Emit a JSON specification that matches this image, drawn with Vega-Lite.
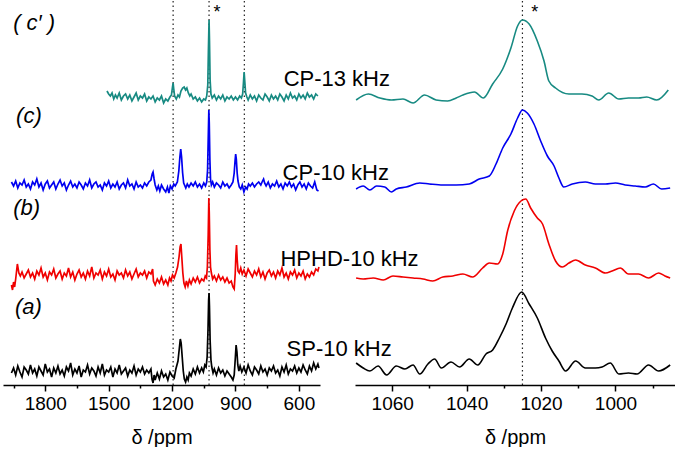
{
"$schema": "https://vega.github.io/schema/vega-lite/v6.json",
"padding": {"left": 3, "top": 0, "right": 0, "bottom": 0},
"bounds": "flush",
"spacing": 35,
"background": "white",
"config": {
  "view": {"stroke": null},
  "font": "Liberation Sans",
  "axis": {"domainColor": "#000", "domainWidth": 1.5, "tickColor": "#000", "tickWidth": 1.5, "labelFont": "Liberation Sans", "labelFontSize": 19, "labelColor": "#000", "titleFont": "Liberation Sans", "titleFontSize": 20, "titleFontWeight": "normal", "titleColor": "#000", "grid": false, "labelPadding": 3, "titlePadding": 14, "labelOverlap": false, "labelFlush": false, "format": "d"}
},
"datasets": {
"a": [
{"x":1960,"y":12},{"x":1950,"y":17},{"x":1940,"y":10},{"x":1930,"y":19},{"x":1920,"y":13},{"x":1910,"y":8},{"x":1900,"y":18},{"x":1890,"y":15},{"x":1880,"y":11},{"x":1870,"y":20},{"x":1860,"y":12},{"x":1850,"y":16},{"x":1840,"y":9},{"x":1830,"y":18},{"x":1820,"y":14},{"x":1810,"y":10},{"x":1800,"y":21},{"x":1790,"y":13},{"x":1780,"y":16},{"x":1770,"y":8},{"x":1760,"y":17},{"x":1750,"y":12},{"x":1740,"y":19},{"x":1730,"y":11},{"x":1720,"y":15},{"x":1710,"y":9},{"x":1700,"y":18},{"x":1690,"y":14},{"x":1680,"y":22},{"x":1670,"y":10},{"x":1660,"y":16},{"x":1650,"y":12},{"x":1640,"y":19},{"x":1630,"y":8},{"x":1620,"y":15},{"x":1610,"y":13},{"x":1600,"y":20},{"x":1590,"y":11},{"x":1580,"y":17},{"x":1570,"y":14},{"x":1560,"y":9},{"x":1550,"y":18},{"x":1540,"y":12},{"x":1530,"y":21},{"x":1520,"y":10},{"x":1510,"y":15},{"x":1500,"y":13},{"x":1490,"y":18},{"x":1480,"y":8},{"x":1470,"y":16},{"x":1460,"y":12},{"x":1450,"y":20},{"x":1440,"y":11},{"x":1430,"y":14},{"x":1420,"y":17},{"x":1410,"y":9},{"x":1400,"y":15},{"x":1390,"y":12},{"x":1380,"y":19},{"x":1370,"y":10},{"x":1360,"y":16},{"x":1350,"y":13},{"x":1340,"y":18},{"x":1330,"y":11},{"x":1320,"y":15},{"x":1310,"y":12},{"x":1300,"y":16},{"x":1295,"y":6},{"x":1290,"y":2},{"x":1285,"y":10},{"x":1280,"y":5},{"x":1270,"y":12},{"x":1260,"y":6},{"x":1250,"y":14},{"x":1240,"y":8},{"x":1230,"y":11},{"x":1220,"y":5},{"x":1210,"y":13},{"x":1200,"y":9},{"x":1190,"y":7},{"x":1182,"y":16},{"x":1172,"y":24},{"x":1166,"y":36},{"x":1161,"y":46},{"x":1157,"y":42},{"x":1152,"y":28},{"x":1147,"y":14},{"x":1142,"y":6},{"x":1136,"y":3},{"x":1130,"y":8},{"x":1124,"y":5},{"x":1118,"y":12},{"x":1110,"y":9},{"x":1100,"y":16},{"x":1090,"y":11},{"x":1080,"y":18},{"x":1070,"y":12},{"x":1060,"y":17},{"x":1052,"y":13},{"x":1045,"y":20},{"x":1039,"y":18},{"x":1034,"y":28},{"x":1030,"y":55},{"x":1027,"y":85},{"x":1025,"y":92},{"x":1023,"y":78},{"x":1020,"y":45},{"x":1016,"y":25},{"x":1012,"y":18},{"x":1006,"y":12},{"x":1000,"y":16},{"x":990,"y":10},{"x":980,"y":17},{"x":970,"y":12},{"x":960,"y":15},{"x":950,"y":9},{"x":940,"y":14},{"x":930,"y":11},{"x":920,"y":8},{"x":912,"y":5},{"x":906,"y":10},{"x":901,"y":26},{"x":897,"y":40},{"x":893,"y":33},{"x":889,"y":20},{"x":884,"y":14},{"x":878,"y":19},{"x":870,"y":13},{"x":860,"y":18},{"x":850,"y":12},{"x":840,"y":20},{"x":830,"y":14},{"x":820,"y":10},{"x":810,"y":18},{"x":800,"y":15},{"x":790,"y":11},{"x":780,"y":19},{"x":770,"y":13},{"x":760,"y":16},{"x":750,"y":10},{"x":740,"y":17},{"x":730,"y":14},{"x":720,"y":19},{"x":710,"y":12},{"x":700,"y":15},{"x":690,"y":9},{"x":680,"y":18},{"x":670,"y":13},{"x":660,"y":20},{"x":650,"y":11},{"x":640,"y":16},{"x":630,"y":14},{"x":620,"y":19},{"x":610,"y":12},{"x":600,"y":17},{"x":590,"y":13},{"x":580,"y":20},{"x":570,"y":15},{"x":560,"y":11},{"x":550,"y":19},{"x":540,"y":14},{"x":530,"y":22},{"x":520,"y":16},{"x":510,"y":21},{"x":505,"y":17}
],
"b": [
{"x":1960,"y":100},{"x":1955,"y":95},{"x":1950,"y":103},{"x":1945,"y":98},{"x":1940,"y":106},{"x":1932,"y":121},{"x":1925,"y":112},{"x":1918,"y":109},{"x":1910,"y":113},{"x":1900,"y":107},{"x":1890,"y":111},{"x":1880,"y":115},{"x":1870,"y":108},{"x":1860,"y":112},{"x":1850,"y":106},{"x":1840,"y":114},{"x":1830,"y":110},{"x":1820,"y":117},{"x":1810,"y":108},{"x":1800,"y":112},{"x":1790,"y":105},{"x":1780,"y":113},{"x":1770,"y":110},{"x":1760,"y":116},{"x":1750,"y":107},{"x":1740,"y":111},{"x":1730,"y":114},{"x":1720,"y":106},{"x":1710,"y":112},{"x":1700,"y":109},{"x":1690,"y":117},{"x":1680,"y":108},{"x":1670,"y":113},{"x":1660,"y":105},{"x":1650,"y":111},{"x":1640,"y":115},{"x":1630,"y":108},{"x":1620,"y":112},{"x":1610,"y":106},{"x":1600,"y":114},{"x":1590,"y":109},{"x":1580,"y":118},{"x":1570,"y":107},{"x":1560,"y":112},{"x":1550,"y":110},{"x":1540,"y":115},{"x":1530,"y":106},{"x":1520,"y":113},{"x":1510,"y":109},{"x":1500,"y":116},{"x":1490,"y":108},{"x":1480,"y":111},{"x":1470,"y":105},{"x":1460,"y":114},{"x":1450,"y":110},{"x":1440,"y":112},{"x":1430,"y":107},{"x":1420,"y":115},{"x":1410,"y":109},{"x":1400,"y":113},{"x":1390,"y":106},{"x":1380,"y":111},{"x":1370,"y":116},{"x":1360,"y":108},{"x":1350,"y":112},{"x":1340,"y":110},{"x":1330,"y":114},{"x":1320,"y":107},{"x":1310,"y":113},{"x":1300,"y":111},{"x":1292,"y":116},{"x":1288,"y":104},{"x":1280,"y":100},{"x":1270,"y":106},{"x":1260,"y":102},{"x":1250,"y":108},{"x":1240,"y":101},{"x":1230,"y":105},{"x":1220,"y":100},{"x":1212,"y":107},{"x":1205,"y":104},{"x":1198,"y":110},{"x":1190,"y":107},{"x":1182,"y":112},{"x":1174,"y":118},{"x":1167,"y":128},{"x":1162,"y":138},{"x":1158,"y":141},{"x":1154,"y":128},{"x":1149,"y":112},{"x":1144,"y":102},{"x":1138,"y":98},{"x":1132,"y":104},{"x":1125,"y":99},{"x":1118,"y":105},{"x":1110,"y":101},{"x":1100,"y":107},{"x":1090,"y":103},{"x":1080,"y":108},{"x":1070,"y":102},{"x":1060,"y":106},{"x":1050,"y":104},{"x":1043,"y":109},{"x":1037,"y":107},{"x":1033,"y":118},{"x":1029,"y":150},{"x":1026,"y":187},{"x":1024,"y":172},{"x":1021,"y":135},{"x":1018,"y":118},{"x":1014,"y":112},{"x":1008,"y":106},{"x":1000,"y":109},{"x":990,"y":104},{"x":980,"y":110},{"x":970,"y":105},{"x":960,"y":108},{"x":950,"y":103},{"x":940,"y":107},{"x":930,"y":102},{"x":920,"y":104},{"x":912,"y":98},{"x":906,"y":96},{"x":901,"y":112},{"x":898,"y":130},{"x":895,"y":140},{"x":892,"y":126},{"x":888,"y":114},{"x":882,"y":112},{"x":875,"y":117},{"x":868,"y":111},{"x":860,"y":115},{"x":850,"y":109},{"x":840,"y":116},{"x":830,"y":112},{"x":820,"y":108},{"x":810,"y":114},{"x":800,"y":110},{"x":790,"y":116},{"x":780,"y":108},{"x":770,"y":113},{"x":760,"y":106},{"x":750,"y":112},{"x":740,"y":115},{"x":730,"y":109},{"x":720,"y":113},{"x":710,"y":107},{"x":700,"y":114},{"x":690,"y":110},{"x":680,"y":117},{"x":670,"y":108},{"x":660,"y":112},{"x":650,"y":106},{"x":640,"y":113},{"x":630,"y":110},{"x":620,"y":115},{"x":610,"y":107},{"x":600,"y":112},{"x":590,"y":109},{"x":580,"y":114},{"x":570,"y":106},{"x":560,"y":111},{"x":550,"y":108},{"x":540,"y":113},{"x":530,"y":110},{"x":520,"y":116},{"x":510,"y":114},{"x":505,"y":118}
],
"c": [
{"x":1960,"y":203},{"x":1950,"y":199},{"x":1940,"y":204},{"x":1930,"y":197},{"x":1920,"y":202},{"x":1910,"y":200},{"x":1900,"y":205},{"x":1890,"y":198},{"x":1880,"y":201},{"x":1870,"y":196},{"x":1860,"y":203},{"x":1850,"y":200},{"x":1840,"y":206},{"x":1830,"y":198},{"x":1820,"y":202},{"x":1810,"y":195},{"x":1800,"y":201},{"x":1790,"y":204},{"x":1780,"y":197},{"x":1770,"y":200},{"x":1760,"y":203},{"x":1750,"y":196},{"x":1740,"y":201},{"x":1730,"y":205},{"x":1720,"y":199},{"x":1710,"y":202},{"x":1700,"y":195},{"x":1690,"y":200},{"x":1680,"y":204},{"x":1670,"y":198},{"x":1660,"y":201},{"x":1650,"y":197},{"x":1640,"y":203},{"x":1630,"y":200},{"x":1620,"y":196},{"x":1610,"y":202},{"x":1600,"y":199},{"x":1590,"y":205},{"x":1580,"y":197},{"x":1570,"y":201},{"x":1560,"y":203},{"x":1550,"y":198},{"x":1540,"y":200},{"x":1530,"y":195},{"x":1520,"y":202},{"x":1510,"y":199},{"x":1500,"y":204},{"x":1490,"y":197},{"x":1480,"y":201},{"x":1470,"y":198},{"x":1460,"y":203},{"x":1450,"y":196},{"x":1440,"y":200},{"x":1430,"y":202},{"x":1420,"y":197},{"x":1410,"y":205},{"x":1400,"y":199},{"x":1390,"y":201},{"x":1380,"y":196},{"x":1370,"y":203},{"x":1360,"y":198},{"x":1350,"y":200},{"x":1340,"y":197},{"x":1330,"y":202},{"x":1320,"y":199},{"x":1310,"y":203},{"x":1300,"y":205},{"x":1294,"y":211},{"x":1290,"y":213},{"x":1285,"y":206},{"x":1280,"y":200},{"x":1272,"y":195},{"x":1265,"y":199},{"x":1258,"y":194},{"x":1250,"y":200},{"x":1240,"y":196},{"x":1230,"y":193},{"x":1222,"y":198},{"x":1215,"y":192},{"x":1208,"y":199},{"x":1200,"y":196},{"x":1192,"y":201},{"x":1185,"y":199},{"x":1175,"y":203},{"x":1168,"y":214},{"x":1163,"y":228},{"x":1159,"y":236},{"x":1155,"y":228},{"x":1150,"y":212},{"x":1145,"y":202},{"x":1135,"y":197},{"x":1128,"y":201},{"x":1120,"y":198},{"x":1110,"y":202},{"x":1100,"y":199},{"x":1090,"y":203},{"x":1080,"y":198},{"x":1070,"y":201},{"x":1060,"y":197},{"x":1050,"y":202},{"x":1042,"y":199},{"x":1036,"y":203},{"x":1032,"y":215},{"x":1029,"y":245},{"x":1026,"y":275},{"x":1024,"y":262},{"x":1021,"y":225},{"x":1018,"y":206},{"x":1014,"y":200},{"x":1008,"y":203},{"x":1000,"y":198},{"x":990,"y":202},{"x":980,"y":200},{"x":970,"y":197},{"x":960,"y":203},{"x":950,"y":199},{"x":940,"y":201},{"x":930,"y":197},{"x":920,"y":200},{"x":912,"y":203},{"x":906,"y":212},{"x":902,"y":224},{"x":899,"y":231},{"x":896,"y":226},{"x":892,"y":212},{"x":888,"y":204},{"x":882,"y":198},{"x":875,"y":196},{"x":868,"y":200},{"x":860,"y":193},{"x":852,"y":198},{"x":845,"y":196},{"x":838,"y":201},{"x":830,"y":199},{"x":820,"y":202},{"x":810,"y":198},{"x":800,"y":201},{"x":790,"y":203},{"x":780,"y":200},{"x":772,"y":204},{"x":767,"y":206},{"x":762,"y":202},{"x":755,"y":199},{"x":745,"y":203},{"x":735,"y":197},{"x":725,"y":201},{"x":715,"y":199},{"x":705,"y":204},{"x":695,"y":198},{"x":685,"y":201},{"x":675,"y":196},{"x":665,"y":202},{"x":655,"y":199},{"x":645,"y":203},{"x":635,"y":198},{"x":625,"y":201},{"x":615,"y":195},{"x":605,"y":200},{"x":595,"y":203},{"x":585,"y":198},{"x":575,"y":201},{"x":565,"y":196},{"x":555,"y":202},{"x":545,"y":199},{"x":535,"y":197},{"x":525,"y":203},{"x":515,"y":195},{"x":507,"y":194}
],
"cp": [
{"x":1508,"y":294},{"x":1500,"y":291},{"x":1492,"y":289},{"x":1484,"y":292},{"x":1476,"y":286},{"x":1468,"y":290},{"x":1460,"y":287},{"x":1450,"y":292},{"x":1440,"y":285},{"x":1430,"y":289},{"x":1420,"y":291},{"x":1410,"y":286},{"x":1400,"y":290},{"x":1390,"y":284},{"x":1380,"y":288},{"x":1370,"y":292},{"x":1360,"y":285},{"x":1350,"y":289},{"x":1340,"y":287},{"x":1330,"y":291},{"x":1320,"y":284},{"x":1310,"y":288},{"x":1300,"y":286},{"x":1290,"y":289},{"x":1280,"y":283},{"x":1270,"y":287},{"x":1260,"y":285},{"x":1250,"y":289},{"x":1240,"y":282},{"x":1230,"y":286},{"x":1220,"y":284},{"x":1210,"y":288},{"x":1203,"y":290},{"x":1198,"y":298},{"x":1195,"y":302},{"x":1192,"y":296},{"x":1188,"y":289},{"x":1180,"y":286},{"x":1172,"y":290},{"x":1165,"y":288},{"x":1158,"y":294},{"x":1150,"y":297},{"x":1143,"y":298},{"x":1136,"y":295},{"x":1130,"y":297},{"x":1123,"y":292},{"x":1116,"y":289},{"x":1110,"y":291},{"x":1100,"y":286},{"x":1090,"y":288},{"x":1080,"y":284},{"x":1070,"y":287},{"x":1060,"y":283},{"x":1050,"y":286},{"x":1042,"y":285},{"x":1036,"y":289},{"x":1031,"y":300},{"x":1028,"y":335},{"x":1025,"y":365},{"x":1023,"y":345},{"x":1020,"y":305},{"x":1016,"y":291},{"x":1010,"y":287},{"x":1000,"y":290},{"x":990,"y":285},{"x":980,"y":289},{"x":970,"y":286},{"x":960,"y":290},{"x":950,"y":284},{"x":940,"y":288},{"x":930,"y":286},{"x":920,"y":289},{"x":910,"y":285},{"x":900,"y":288},{"x":890,"y":285},{"x":880,"y":289},{"x":872,"y":287},{"x":866,"y":291},{"x":862,"y":303},{"x":859,"y":313},{"x":856,"y":304},{"x":852,"y":292},{"x":846,"y":288},{"x":840,"y":285},{"x":830,"y":290},{"x":820,"y":286},{"x":810,"y":289},{"x":800,"y":284},{"x":790,"y":290},{"x":780,"y":287},{"x":770,"y":285},{"x":760,"y":291},{"x":750,"y":288},{"x":740,"y":284},{"x":730,"y":290},{"x":720,"y":286},{"x":710,"y":289},{"x":700,"y":285},{"x":690,"y":291},{"x":680,"y":288},{"x":670,"y":284},{"x":660,"y":290},{"x":650,"y":286},{"x":640,"y":292},{"x":630,"y":287},{"x":620,"y":289},{"x":610,"y":285},{"x":600,"y":291},{"x":590,"y":287},{"x":580,"y":290},{"x":570,"y":286},{"x":560,"y":292},{"x":550,"y":288},{"x":540,"y":290},{"x":530,"y":286},{"x":520,"y":291},{"x":510,"y":289}
],
"ra": [
{"x":1069.7,"y":22},{"x":1067.8,"y":17},{"x":1066.0,"y":14},{"x":1063.8,"y":19},{"x":1061.5,"y":10},{"x":1058.9,"y":19},{"x":1056.6,"y":16},{"x":1054.4,"y":20},{"x":1052.6,"y":11},{"x":1050.4,"y":21},{"x":1048.6,"y":26},{"x":1046.8,"y":17},{"x":1044.2,"y":23},{"x":1041.9,"y":18},{"x":1039.3,"y":26},{"x":1037.0,"y":20},{"x":1034.8,"y":31},{"x":1033.0,"y":35},{"x":1031.2,"y":47},{"x":1029.4,"y":61},{"x":1027.7,"y":77},{"x":1025.2,"y":93},{"x":1023.2,"y":81},{"x":1021.0,"y":67},{"x":1018.8,"y":47},{"x":1017.0,"y":34},{"x":1015.2,"y":24},{"x":1013.4,"y":14},{"x":1010.7,"y":24},{"x":1008.1,"y":17},{"x":1005.4,"y":17},{"x":1003.6,"y":18},{"x":1001.4,"y":22},{"x":999.1,"y":11},{"x":996.5,"y":12},{"x":994.2,"y":11},{"x":991.1,"y":20},{"x":988.4,"y":14},{"x":985.3,"y":20}
],
"rb": [
{"x":1069.7,"y":107},{"x":1067.8,"y":106},{"x":1065.1,"y":107},{"x":1062.4,"y":105},{"x":1059.8,"y":109},{"x":1057.1,"y":108},{"x":1054.4,"y":107},{"x":1051.7,"y":106},{"x":1049.1,"y":104},{"x":1046.4,"y":108},{"x":1043.7,"y":109},{"x":1041.0,"y":111},{"x":1038.4,"y":108},{"x":1035.7,"y":117},{"x":1033.9,"y":122},{"x":1031.7,"y":121},{"x":1030.3,"y":131},{"x":1029.0,"y":154},{"x":1027.2,"y":174},{"x":1025.4,"y":184},{"x":1024.1,"y":186},{"x":1022.8,"y":177},{"x":1021.0,"y":167},{"x":1019.6,"y":161},{"x":1017.9,"y":141},{"x":1016.1,"y":124},{"x":1014.3,"y":118},{"x":1012.5,"y":122},{"x":1010.7,"y":125},{"x":1008.1,"y":120},{"x":1005.4,"y":117},{"x":1002.7,"y":112},{"x":1000.9,"y":114},{"x":998.7,"y":117},{"x":996.5,"y":111},{"x":993.8,"y":111},{"x":991.1,"y":107},{"x":988.4,"y":112},{"x":986.7,"y":109},{"x":985.3,"y":107}
],
"rc": [
{"x":1069.7,"y":196},{"x":1067.8,"y":199},{"x":1066.0,"y":195},{"x":1064.2,"y":199},{"x":1062.0,"y":198},{"x":1060.2,"y":193},{"x":1058.9,"y":196},{"x":1056.2,"y":198},{"x":1052.6,"y":202},{"x":1050.0,"y":201},{"x":1046.4,"y":200},{"x":1042.8,"y":200},{"x":1039.3,"y":201},{"x":1036.6,"y":206},{"x":1033.9,"y":209},{"x":1032.1,"y":221},{"x":1030.3,"y":237},{"x":1028.1,"y":251},{"x":1026.3,"y":267},{"x":1025.0,"y":275},{"x":1023.7,"y":272},{"x":1021.9,"y":261},{"x":1020.1,"y":244},{"x":1018.3,"y":229},{"x":1016.5,"y":219},{"x":1015.2,"y":207},{"x":1013.9,"y":198},{"x":1011.6,"y":201},{"x":1008.1,"y":203},{"x":1005.4,"y":201},{"x":1002.7,"y":201},{"x":1000.0,"y":202},{"x":997.4,"y":200},{"x":994.7,"y":199},{"x":992.0,"y":198},{"x":989.8,"y":201},{"x":987.6,"y":196},{"x":985.3,"y":197}
],
"rcp": [
{"x":1069.7,"y":285},{"x":1066.4,"y":291},{"x":1063.3,"y":287},{"x":1060.2,"y":285},{"x":1057.1,"y":286},{"x":1054.4,"y":282},{"x":1051.3,"y":290},{"x":1048.2,"y":285},{"x":1045.1,"y":284},{"x":1042.8,"y":287},{"x":1041.0,"y":290},{"x":1037.9,"y":293},{"x":1035.5,"y":287},{"x":1033.0,"y":301},{"x":1030.3,"y":316},{"x":1028.1,"y":337},{"x":1026.3,"y":359},{"x":1025.0,"y":365},{"x":1023.2,"y":361},{"x":1021.0,"y":344},{"x":1019.2,"y":324},{"x":1017.9,"y":304},{"x":1016.1,"y":297},{"x":1012.5,"y":291},{"x":1009.0,"y":291},{"x":1006.3,"y":289},{"x":1004.5,"y":285},{"x":1001.8,"y":292},{"x":999.1,"y":286},{"x":996.5,"y":287},{"x":993.8,"y":287},{"x":991.6,"y":288},{"x":988.9,"y":285},{"x":985.8,"y":295}
],
"lv": [{"x":1195},{"x":1025},{"x":858}],
"rv": [{"x":1025}],
"tags": [{"x":1952,"y":362,"t":"( c′ )"},{"x":1938,"y":269,"t":"(c)"},{"x":1952,"y":177,"t":"(b)"},{"x":1943,"y":78,"t":"(a)"}],
"names": [{"x":672,"y":306,"t":"CP-13 kHz"},{"x":677,"y":212,"t":"CP-10 kHz"},{"x":687,"y":126,"t":"HPHD-10 kHz"},{"x":658,"y":36,"t":"SP-10 kHz"}],
"lstar": [{"x":987,"y":372,"t":"*"}],
"rstar": [{"x":1021.7,"y":372,"t":"*"}]
},
"hconcat": [
{
 "width": 317, "height": 384,
 "encoding": {
  "x": {"field": "x", "type": "quantitative", "scale": {"domain": [2000, 500], "nice": false, "zero": false},
        "axis": {"title": "δ /ppm", "values": [1950,1800,1650,1500,1350,1200,1050,900,750,600],
                 "labelExpr": "datum.value % 300 === 0 ? datum.label : ''",
                 "tickSize": {"condition": {"test": "datum.value % 300 === 0", "value": 6}, "value": 3}}}
 },
 "layer": [
  {"data": {"name": "lv"}, "mark": {"type": "rule", "strokeDash": [1.5, 3], "color": "#222", "strokeWidth": 1.2}},
  {"data": {"name": "cp"}, "mark": {"type": "line", "color": "#178a82", "strokeWidth": 1.7},
   "encoding": {"y": {"field": "y", "type": "quantitative", "scale": {"domain": [0, 384], "nice": false, "zero": false}, "axis": null}}},
  {"data": {"name": "c"}, "mark": {"type": "line", "color": "#0000f0", "strokeWidth": 1.7},
   "encoding": {"y": {"field": "y", "type": "quantitative", "axis": null}}},
  {"data": {"name": "b"}, "mark": {"type": "line", "color": "#f00000", "strokeWidth": 1.7},
   "encoding": {"y": {"field": "y", "type": "quantitative", "axis": null}}},
  {"data": {"name": "a"}, "mark": {"type": "line", "color": "#000000", "strokeWidth": 1.7},
   "encoding": {"y": {"field": "y", "type": "quantitative", "axis": null}}},
  {"data": {"name": "tags"}, "mark": {"type": "text", "align": "left", "baseline": "middle", "fontSize": 22, "fontStyle": "italic", "font": "Liberation Sans", "color": "#000"},
   "encoding": {"y": {"field": "y", "type": "quantitative", "axis": null}, "text": {"field": "t"}}},
  {"data": {"name": "names"}, "mark": {"type": "text", "align": "left", "baseline": "middle", "fontSize": 22, "font": "Liberation Sans", "color": "#000"},
   "encoding": {"y": {"field": "y", "type": "quantitative", "axis": null}, "text": {"field": "t"}}},
  {"data": {"name": "lstar"}, "mark": {"type": "text", "align": "center", "baseline": "middle", "fontSize": 18, "font": "Liberation Sans", "color": "#000"},
   "encoding": {"y": {"field": "y", "type": "quantitative", "axis": null}, "text": {"field": "t"}}}
 ]
},
{
 "width": 320, "height": 384,
 "encoding": {
  "x": {"field": "x", "type": "quantitative", "scale": {"domain": [1070, 984], "nice": false, "zero": false},
        "axis": {"title": "δ /ppm", "values": [1060,1050,1040,1030,1020,1010,1000,990],
                 "labelExpr": "datum.value % 20 === 0 ? datum.label : ''",
                 "tickSize": {"condition": {"test": "datum.value % 20 === 0", "value": 6}, "value": 3}}}
 },
 "layer": [
  {"data": {"name": "rv"}, "mark": {"type": "rule", "strokeDash": [1.5, 3], "color": "#222", "strokeWidth": 1.2}},
  {"data": {"name": "rcp"}, "mark": {"type": "line", "color": "#178a82", "strokeWidth": 1.6, "interpolate": "monotone"},
   "encoding": {"y": {"field": "y", "type": "quantitative", "scale": {"domain": [0, 384], "nice": false, "zero": false}, "axis": null}}},
  {"data": {"name": "rc"}, "mark": {"type": "line", "color": "#0000f0", "strokeWidth": 1.6, "interpolate": "monotone"},
   "encoding": {"y": {"field": "y", "type": "quantitative", "axis": null}}},
  {"data": {"name": "rb"}, "mark": {"type": "line", "color": "#f00000", "strokeWidth": 1.6, "interpolate": "monotone"},
   "encoding": {"y": {"field": "y", "type": "quantitative", "axis": null}}},
  {"data": {"name": "ra"}, "mark": {"type": "line", "color": "#000000", "strokeWidth": 1.6, "interpolate": "monotone"},
   "encoding": {"y": {"field": "y", "type": "quantitative", "axis": null}}},
  {"data": {"name": "rstar"}, "mark": {"type": "text", "align": "center", "baseline": "middle", "fontSize": 18, "font": "Liberation Sans", "color": "#000"},
   "encoding": {"y": {"field": "y", "type": "quantitative", "axis": null}, "text": {"field": "t"}}}
 ]
}
]
}
